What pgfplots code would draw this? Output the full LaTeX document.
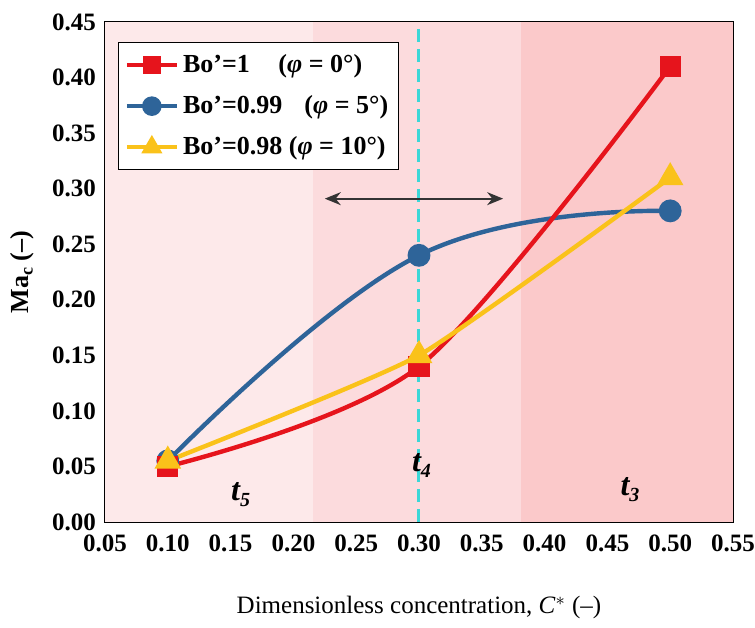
\documentclass[border=0pt]{standalone}
\usepackage{pgfplots}
\pgfplotsset{compat=1.18}
\usetikzlibrary{arrows.meta}
\usepackage{fontspec}
\setmainfont{Liberation Serif}
\definecolor{cred}{RGB}{230,20,28}
\definecolor{cblue}{RGB}{46,100,153}
\definecolor{cyel}{RGB}{250,194,26}
\definecolor{bgA}{RGB}{253,233,234}
\definecolor{bgB}{RGB}{252,219,221}
\definecolor{bgC}{RGB}{251,201,202}
\definecolor{ccyan}{RGB}{60,215,215}
\begin{document}
\begin{tikzpicture}
\begin{axis}[
  scale only axis,
  width=314pt, height=250pt,
  xmin=0.05, xmax=0.55, ymin=0, ymax=0.45,
  xtick={0.05,0.10,...,0.56}, ytick={0,0.05,...,0.46},
  minor x tick num=4, minor y tick num=4,
  tick align=inside,
  major tick length=5pt, minor tick length=2.5pt,
  tick style={black, line width=0.6pt},
  axis line style={black, line width=0.8pt},
  /pgf/number format/assume math mode=true,
  /pgf/number format/.cd, fixed, fixed zerofill, precision=2,
  /pgfplots/.cd,
  ticklabel style={font=\bfseries\fontsize{12.5}{14}\selectfont},
  xticklabel style={yshift=-3pt, inner xsep=0pt},
  yticklabel style={xshift=-1pt},
  xlabel={Dimensionless concentration, \textit{C}$^{*}$ (–)},
  ylabel={\textbf{Ma}\raisebox{-0.35ex}{\fontsize{9}{10}\selectfont\bfseries c} \textbf{(–)}},
  xlabel style={font=\fontsize{12.5}{14}\selectfont, at={(axis description cs:0.5,-0.172)}, anchor=center},
  ylabel style={font=\fontsize{13}{14}\selectfont, at={(axis description cs:-0.132,0.5)}, anchor=center},
  legend style={at={(axis cs:0.0604,0.432)}, anchor=north west, draw=black, line width=0.6pt, fill=white,
     font=\bfseries\fontsize{13}{15}\selectfont, row sep=6pt, inner sep=3pt, inner ysep=4pt},
  legend cell align=left,
  legend image code/.code={\draw[#1, line width=2.2pt] (0pt,0pt) -- (25pt,0pt); \draw[#1, mark repeat=2, mark phase=2] plot coordinates {(0pt,0pt) (12.5pt,0pt) (25pt,0pt)};},
  clip=true,
]
\fill[bgA] (axis cs:0.05,0) rectangle (axis cs:0.2155,0.45);
\fill[bgB] (axis cs:0.2155,0) rectangle (axis cs:0.381,0.45);
\fill[bgC] (axis cs:0.381,0) rectangle (axis cs:0.55,0.45);
\draw[ccyan, line width=1.5pt, dash pattern=on 6.5pt off 3.5pt] (axis cs:0.3,0) -- (axis cs:0.3,0.45);
\draw[{Stealth[length=8pt,width=6.5pt]}-{Stealth[length=8pt,width=6.5pt]}, line width=0.9pt, black!80] (axis cs:0.225,0.291) -- (axis cs:0.367,0.291);
\node[font=\bfseries\itshape\fontsize{16}{17}\selectfont] at (axis cs:0.158,0.025) {t\raisebox{-0.4ex}{\fontsize{10}{11}\selectfont 5}};
\node[font=\bfseries\itshape\fontsize{16}{17}\selectfont] at (axis cs:0.302,0.051) {t\raisebox{-0.4ex}{\fontsize{10}{11}\selectfont 4}};
\node[font=\bfseries\itshape\fontsize{16}{17}\selectfont] at (axis cs:0.468,0.029) {t\raisebox{-0.4ex}{\fontsize{10}{11}\selectfont 3}};

\addlegendimage{cred, mark=square*, mark size=4.2pt}
\addlegendentry{Bo’=1\hspace{1.1em}(\textit{φ} = 0°)}
\addlegendimage{cblue, mark=*, mark size=4.6pt}
\addlegendentry{Bo’=0.99\hspace{0.85em}(\textit{φ} = 5°)}
\addlegendimage{cyel, mark=triangle*, mark size=5.5pt}
\addlegendentry{Bo’=0.98 (\textit{φ} = 10°)}

\addplot[cblue, line width=2.2pt, smooth, tension=0.7, mark=*, mark size=4.6pt, forget plot] coordinates {(0.1,0.055) (0.3,0.24) (0.5,0.28)};
\addplot[cred, line width=2.2pt, smooth, tension=0.5, mark=square*, mark size=4.2pt, forget plot] coordinates {(0.1,0.05) (0.3,0.14) (0.5,0.41)};
\addplot[cyel, line width=2.2pt, smooth, tension=0.3, mark=triangle*, mark size=5.5pt, forget plot] coordinates {(0.1,0.055) (0.3,0.15) (0.5,0.31)};
\end{axis}
\pgfresetboundingbox
\path ([shift={(-52.5pt,-53pt)}]current axis.south west) rectangle ([shift={(11pt,11pt)}]current axis.north east);
\end{tikzpicture}
\end{document}
